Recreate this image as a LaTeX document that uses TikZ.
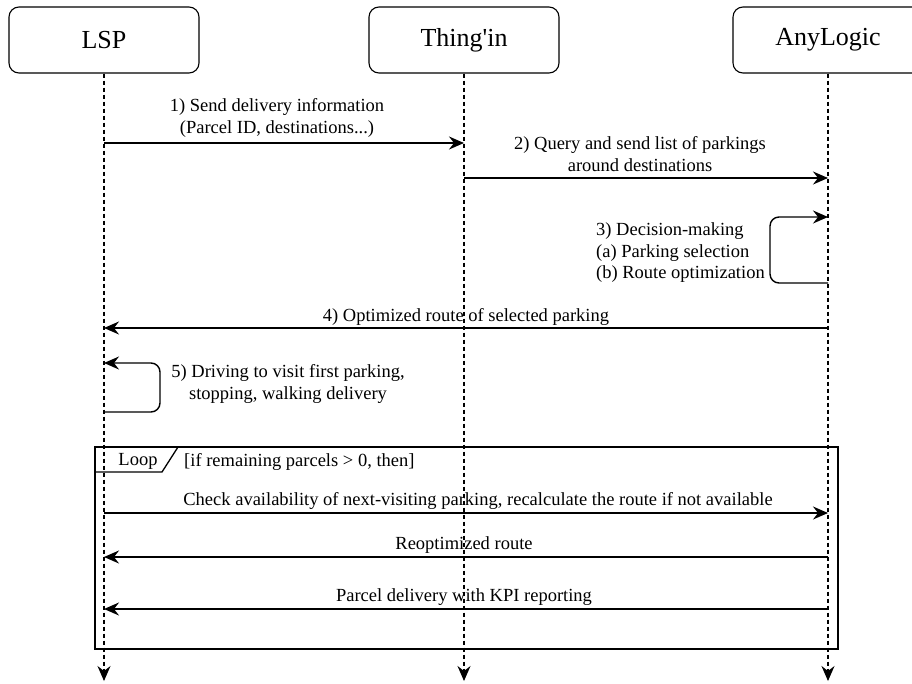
\documentclass[tikz,border=0pt]{standalone}
\usepackage{fontspec}
\setmainfont{Liberation Serif}
\usetikzlibrary{arrows.meta,calc}
\begin{document}
\begin{tikzpicture}[x=1pt,y=-1pt,
  actor/.style={draw,line width=1.1pt,rounded corners=10pt,minimum width=190pt,minimum height=66pt,inner sep=0pt,font=\fontsize{26}{30}\selectfont},
  life/.style={line width=1.2pt,dash pattern=on 4pt off 3pt,-{Stealth[length=15pt,width=13pt,inset=5pt]}},
  msg/.style={line width=1.4pt,-{Stealth[length=15pt,width=13pt,inset=5pt]}},
  lbl/.style={font=\fontsize{18.5}{21.5}\selectfont,inner sep=0pt,align=center},
  frame/.style={line width=1.3pt}]
\useasboundingbox (0,0) rectangle (912,683);
\clip (0,0) rectangle (912,683);
% actors
\node[actor] (lsp) at (104,40) {LSP};
\node[actor] (thing) at (464,40) {Thing\textquotesingle in};
\node[actor] (any) at (828,40) {AnyLogic};
% lifeline ends
\coordinate (lspe) at (104,681);
\coordinate (thinge) at (464,681);
\coordinate (anye) at (828,681);
\draw[life] (lsp.south) -- (lspe);
\draw[life] (thing.south) -- (thinge);
\draw[life] (any.south) -- (anye);
% message 1
\coordinate (m1a) at (104,143);
\coordinate (m1b) at (464,143);
\draw[msg] (m1a) -- (m1b);
\node[lbl] (t1) at (277,118) {1) Send delivery information\\(Parcel ID, destinations...)};
% message 2
\coordinate (m2a) at (464,178);
\coordinate (m2b) at (828,178);
\draw[msg] (m2a) -- (m2b);
\node[lbl] (t2) at (640,154) {2) Query and send list of parkings\\around destinations};
% message 3 (self)
\coordinate (m3a) at (828,283);
\coordinate (m3b) at (828,217);
\draw[msg,rounded corners=9pt] (m3a) -- (770,283) -- (770,217) -- (m3b);
\node[lbl,align=left,anchor=west] (t3) at (596,253) {3) Decision-making\\(a) Parking selection\\(b) Route optimization};
% message 4
\coordinate (m4a) at (828,328);
\coordinate (m4b) at (104,328);
\draw[msg] (m4a) -- (m4b);
\node[lbl] (t4) at (466,317) {4) Optimized route of selected parking};
% message 5 (self)
\coordinate (m5a) at (104,412);
\coordinate (m5b) at (104,363);
\draw[msg,rounded corners=9pt] (m5a) -- (160,412) -- (160,363) -- (m5b);
\node[lbl] (t5) at (288,384) {5) Driving to visit first parking,\\stopping, walking delivery};
% loop frame
\draw[frame] (95,447) rectangle (838,649);
\draw[frame] (95,472) -- (162,472) -- (178,447);
\node[lbl] (loop) at (138,461) {Loop};
\node[lbl,anchor=west] (guard) at (184,462) {[if remaining parcels > 0, then]};
% loop messages
\coordinate (m6a) at (104,513);
\coordinate (m6b) at (828,513);
\draw[msg] (m6a) -- (m6b);
\node[lbl] (t6) at (478,501) {Check availability of next-visiting parking, recalculate the route if not available};
\coordinate (m7a) at (828,557);
\coordinate (m7b) at (104,557);
\draw[msg] (m7a) -- (m7b);
\node[lbl] (t7) at (464,545) {Reoptimized route};
\coordinate (m8a) at (828,609);
\coordinate (m8b) at (104,609);
\draw[msg] (m8a) -- (m8b);
\node[lbl] (t8) at (464,597) {Parcel delivery with KPI reporting};
\end{tikzpicture}
\end{document}
